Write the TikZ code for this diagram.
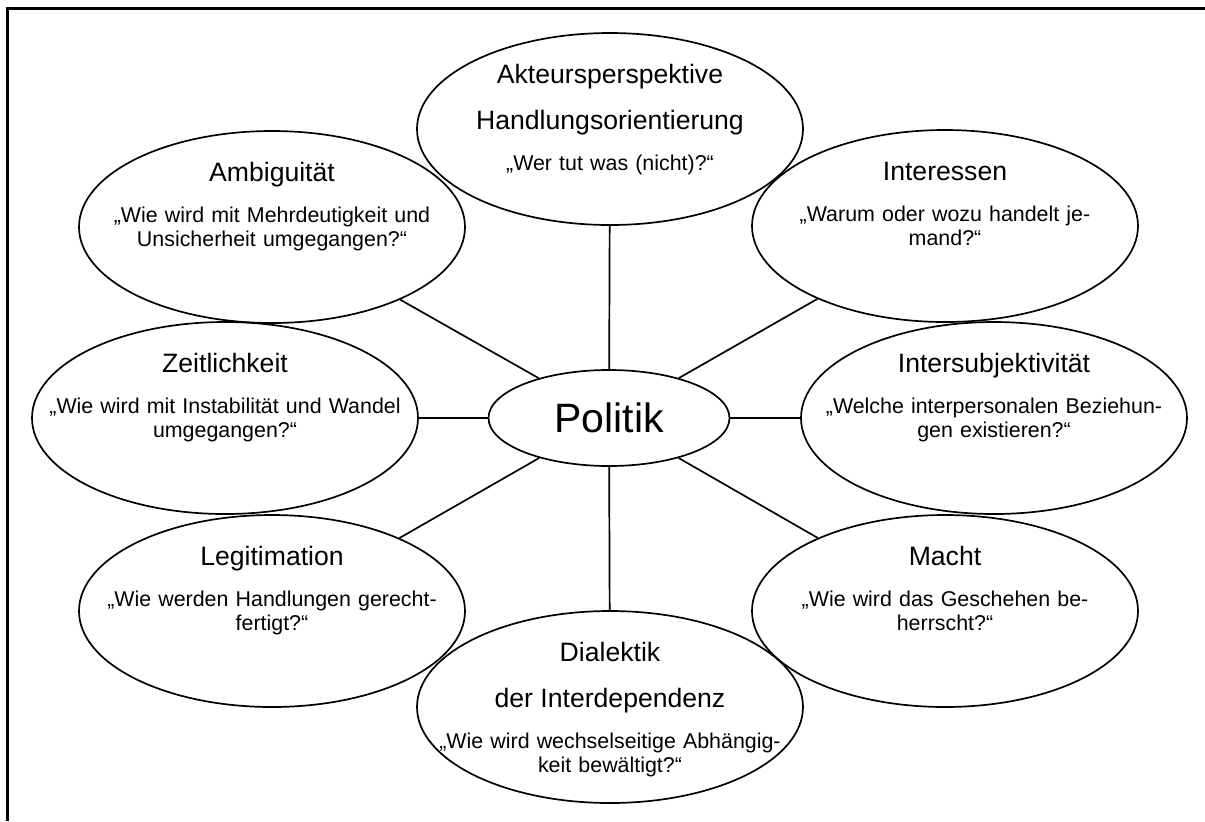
\documentclass[tikz,border=0pt]{standalone}
\usepackage{fontspec}
\setmainfont{Liberation Sans}
\usepackage{tikz}
\usetikzlibrary{shapes.geometric,positioning}
\tikzset{
  oval/.style={draw, ellipse, line width=0.85pt, minimum width=193pt, minimum height=96pt, inner sep=0pt},
  hub/.style={oval, minimum width=120.5pt, minimum height=48pt, font=\fontsize{20.5}{24}\selectfont},
  head/.style={anchor=base, inner sep=0pt, font=\fontsize{13.3}{16}\selectfont},
  ask/.style={anchor=base, inner sep=0pt, text width=190pt, align=center, font=\fontsize{10.7}{12.25}\selectfont},
  link/.style={line width=0.85pt},
  rim/.style={line width=1.3pt}}

\begin{document}
\begin{tikzpicture}[x=0.5pt, y=-0.5pt]
  \useasboundingbox (0,0) rectangle (1205,821);
  \coordinate (c1) at (5,8.7); \coordinate (c2) at (1205,8.7); \coordinate (c3) at (7.3,821);
  \draw[rim] (c2) -- (c1 -| c3) -- (c3);
  \node[hub] (pol) at (609,418) {Politik};
  \node[oval] (akt) at (610,129) {};
  \node[oval] (amb) at (272,227) {};
  \node[oval] (int) at (945,226) {};
  \node[oval] (zei) at (225,418) {};
  \node[oval] (sub) at (994,418) {};
  \node[oval] (leg) at (272,611) {};
  \node[oval] (mac) at (945,611) {};
  \node[oval] (dia) at (610,707) {};
  \foreach \n in {akt,int,sub,mac,dia,leg,zei,amb} \draw[link] (pol) -- (\n);
  \node[head] (akt-t1) at (610,83) {Akteursperspektive};
  \node[head] (akt-t2) at (610,129) {Handlungsorientierung};
  \node[ask] (akt-q) at (610,170) {„Wer tut was (nicht)?“};
  \node[head] (amb-t) at (272,181) {Ambiguität};
  \node[ask] (amb-q) at (272,222) {„Wie wird mit Mehrdeutigkeit und\\Unsicherheit umgegangen?“};
  \node[head] (int-t) at (945,180) {Interessen};
  \node[ask] (int-q) at (945,221) {„Warum oder wozu handelt je-\\mand?“};
  \node[head] (zei-t) at (225,372) {Zeitlichkeit};
  \node[ask] (zei-q) at (225,413) {„Wie wird mit Instabilität und Wandel\\umgegangen?“};
  \node[head] (sub-t) at (994,372) {Intersubjektivität};
  \node[ask] (sub-q) at (994,413) {„Welche interpersonalen Beziehun-\\gen existieren?“};
  \node[head] (leg-t) at (272,565) {Legitimation};
  \node[ask] (leg-q) at (272,606) {„Wie werden Handlungen gerecht-\\fertigt?“};
  \node[head] (mac-t) at (945,565) {Macht};
  \node[ask] (mac-q) at (945,606) {„Wie wird das Geschehen be-\\herrscht?“};
  \node[head] (dia-t1) at (610,661) {Dialektik};
  \node[head] (dia-t2) at (610,707) {der Interdependenz};
  \node[ask] (dia-q) at (610,748) {„Wie wird wechselseitige Abhängig-\\keit bewältigt?“};
\end{tikzpicture}
\end{document}
